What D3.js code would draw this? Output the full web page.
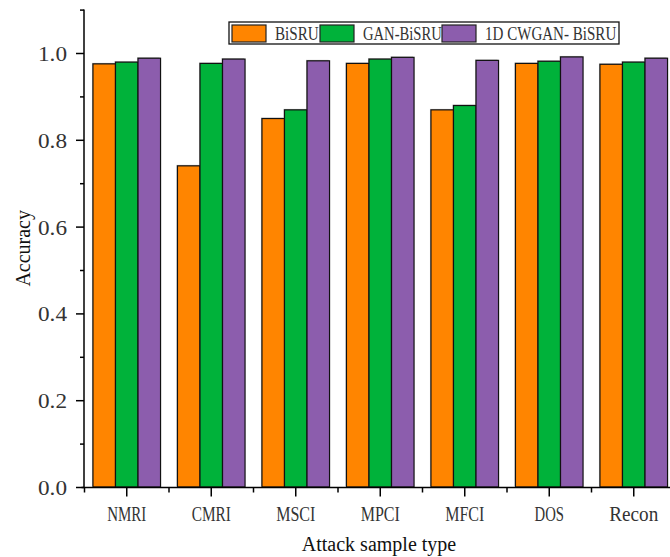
<!DOCTYPE html>
<html>
<head>
<meta charset="utf-8">
<script src="https://cdn.jsdelivr.net/npm/d3@7"></script>
<style>
  html, body { margin: 0; padding: 0; background: #fff; }
  svg { display: block; }
</style>
</head>
<body>
<svg id="chart" width="670" height="557"></svg>
<script>
// Attack sample categories and accuracy per model
const categories = ["NMRI", "CMRI", "MSCI", "MPCI", "MFCI", "DOS", "Recon"];
const seriesNames = ["BiSRU", "GAN-BiSRU", "1D CWGAN- BiSRU"];
const bisru      = [0.975, 0.740, 0.849, 0.976, 0.869, 0.976, 0.974];
const ganBisru   = [0.979, 0.976, 0.869, 0.986, 0.879, 0.981, 0.979];
const cwganBisru = [0.988, 0.986, 0.982, 0.990, 0.983, 0.991, 0.988];
const yTicks = [0, 0.2, 0.4, 0.6, 0.8, 1.0];
const yMinorTicks = [0.1, 0.3, 0.5, 0.7, 0.9, 1.1];
const colors = ["#FF8500", "#00B23A", "#8C5DAD"];

const series = [bisru, ganBisru, cwganBisru];

const svg = d3.select("#chart");
const serif = "'Liberation Serif', 'Times New Roman', serif";

const x0 = 84.5, yBase = 487;
const x = d3.scaleBand().domain(categories).range([x0, 676])
  .paddingInner(0.2).paddingOuter(0.1);
const xs = d3.scaleBand().domain(d3.range(seriesNames.length)).range([0, x.bandwidth()]);
const y = d3.scaleLinear().domain([0, 1.1]).range([yBase, yBase - 1.1 * 434]);

// Bars, with a faint shadow behind each one
const groups = svg.append("g").selectAll("g")
  .data(categories).join("g")
  .attr("transform", d => `translate(${x(d)},0)`);

groups.selectAll("rect.shadow")
  .data((c, i) => series.map((s, k) => ({ k, v: s[i] })))
  .join("rect").attr("class", "shadow")
  .attr("x", d => xs(d.k) - 1)
  .attr("y", d => y(d.v) - 1)
  .attr("width", xs.bandwidth())
  .attr("height", d => yBase - y(d.v))
  .attr("fill", "#999").attr("opacity", 0.55);

groups.selectAll("rect.bar")
  .data((c, i) => series.map((s, k) => ({ k, v: s[i] })))
  .join("rect").attr("class", "bar")
  .attr("x", d => xs(d.k))
  .attr("y", d => y(d.v))
  .attr("width", xs.bandwidth())
  .attr("height", d => yBase - y(d.v))
  .attr("fill", d => colors[d.k])
  .attr("stroke", "#111").attr("stroke-width", 1.2);

// Y axis
const yAxis = svg.append("g").attr("transform", `translate(${x0 - 0.5},0)`);
yAxis.call(d3.axisLeft(y).tickValues(yTicks).tickSize(8).tickPadding(9)
  .tickFormat(d3.format(".1f")));
yAxis.append("g").call(d3.axisLeft(y).tickValues(yMinorTicks).tickSize(4).tickFormat(""))
  .select(".domain").remove();
yAxis.selectAll(".domain").attr("d", `M0,${y(1.1)}V${yBase}`);
yAxis.selectAll("line").attr("stroke-width", 1.5);
yAxis.selectAll(".domain").attr("stroke-width", 1.5);
yAxis.selectAll("text")
  .attr("font-family", serif).attr("font-size", 21).attr("fill", "#333")
  .attr("dy", "0.36em")
  .attr("textLength", 29).attr("lengthAdjust", "spacingAndGlyphs");

// X axis: major ticks at category centres, minor ticks at the group edges
const xAxis = svg.append("g").attr("transform", `translate(0,${yBase + 0.5})`);
xAxis.call(d3.axisBottom(x).tickSize(9).tickPadding(5).tickSizeOuter(0));
xAxis.selectAll(".domain").attr("d", `M${x0 - 3},0H670`).attr("stroke-width", 1.5);
xAxis.selectAll("line").attr("stroke-width", 1.5);
const step = x.step();
xAxis.append("g").selectAll("line")
  .data(d3.range(categories.length + 1))
  .join("line")
  .attr("x1", i => x0 + i * step).attr("x2", i => x0 + i * step)
  .attr("y1", 0).attr("y2", 5)
  .attr("stroke", "#000").attr("stroke-width", 1.5);
xAxis.selectAll(".tick text")
  .attr("font-family", serif).attr("font-size", 20).attr("fill", "#333")
  .attr("dy", "0.95em")
  .attr("textLength", d => d.length * 9.8).attr("lengthAdjust", "spacingAndGlyphs");

// Axis titles
svg.append("text")
  .attr("x", 379).attr("y", 551)
  .attr("text-anchor", "middle")
  .attr("font-family", serif).attr("font-size", 20).attr("fill", "#111")
  .text("Attack sample type");
svg.append("text")
  .attr("transform", `translate(30,${(y(1.1) + yBase) / 2}) rotate(-90)`)
  .attr("text-anchor", "middle")
  .attr("font-family", serif).attr("font-size", 20).attr("fill", "#111")
  .text("Accuracy");

// Legend
const legend = svg.append("g");
legend.append("rect")
  .attr("x", 229).attr("y", 22).attr("width", 390).attr("height", 22)
  .attr("fill", "#fff").attr("stroke", "#111").attr("stroke-width", 1.3);
const legendX = [232, 320, 442];
const items = legend.selectAll("g.item").data(seriesNames).join("g")
  .attr("transform", (d, i) => `translate(${legendX[i]},25)`);
items.append("rect")
  .attr("width", 34).attr("height", 17)
  .attr("fill", (d, i) => colors[i])
  .attr("stroke", "#222").attr("stroke-width", 1.2);
items.append("text")
  .attr("x", 43).attr("y", 15)
  .attr("font-family", serif).attr("font-size", 18.5).attr("fill", "#333")
  .attr("textLength", d => d.length * 8.75).attr("lengthAdjust", "spacingAndGlyphs")
  .text(d => d);
</script>
</body>
</html>
